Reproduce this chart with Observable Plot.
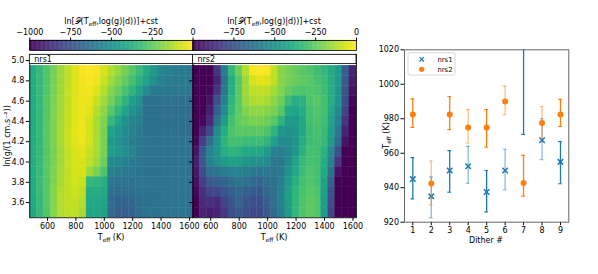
<!DOCTYPE html>
<html><head><meta charset="utf-8">
<script src="https://cdn.jsdelivr.net/npm/d3@7"></script>
<script src="https://cdn.jsdelivr.net/npm/@observablehq/plot@0.6"></script>
<style>
body{margin:0;background:#fff;}
#wrap{position:relative;width:598px;height:274px;font-family:"DejaVu Sans",sans-serif;}
#wrap > svg{position:absolute;left:0;top:0;}
</style></head><body><div id="wrap"></div>
<script>
// ---- heatmap grid ----
const teff = [500,550,600,650,700,750,800,850,900,950,1000,1050,1100,1150,1200,1250,1300,1350,1400,1450,1500,1550,1600];
// rows listed top -> bottom
const logg = [4.9,4.8,4.7,4.6,4.5,4.4,4.3,4.2,4.1,4.0,3.9,3.8,3.7,3.6,3.5];
const nrs1LnP = [
[-390,-330,-270,-210,-150,-100,-50,-15,-5,-10,-60,-110,-160,-210,-260,-320,-390,-460,-530,-570,-585,-590,-590],
[-390,-330,-270,-205,-150,-100,-50,-20,-8,-25,-80,-140,-190,-240,-300,-360,-430,-500,-560,-585,-590,-590,-590],
[-390,-330,-270,-200,-145,-95,-50,-25,-20,-50,-110,-180,-230,-290,-350,-420,-520,-590,-600,-600,-600,-600,-600],
[-390,-330,-265,-200,-140,-95,-50,-30,-35,-80,-140,-210,-280,-350,-430,-500,-630,-630,-630,-630,-630,-630,-630],
[-390,-330,-265,-195,-140,-90,-50,-30,-50,-110,-170,-260,-340,-420,-490,-540,-635,-635,-635,-635,-635,-635,-635],
[-390,-330,-260,-190,-135,-90,-45,-30,-70,-130,-190,-330,-420,-490,-540,-570,-635,-635,-635,-635,-635,-635,-635],
[-390,-330,-260,-190,-130,-85,-40,-25,-70,-130,-200,-420,-470,-520,-560,-590,-630,-630,-630,-630,-630,-630,-630],
[-390,-330,-260,-190,-130,-85,-45,-30,-70,-130,-200,-450,-490,-530,-570,-600,-620,-620,-620,-620,-620,-620,-620],
[-385,-330,-265,-200,-140,-95,-55,-45,-85,-130,-200,-430,-470,-510,-550,-600,-615,-615,-615,-615,-615,-615,-615],
[-385,-325,-260,-200,-140,-95,-60,-55,-100,-150,-220,-520,-540,-560,-590,-610,-615,-615,-615,-615,-615,-615,-615],
[-385,-325,-260,-195,-135,-90,-60,-65,-150,-200,-280,-560,-580,-590,-605,-615,-615,-615,-615,-615,-615,-615,-615],
[-390,-320,-260,-190,-130,-90,-70,-80,-330,-350,-380,-600,-620,-620,-620,-610,-610,-610,-610,-610,-610,-610,-610],
[-390,-320,-260,-180,-120,-90,-80,-100,-380,-380,-400,-620,-650,-650,-640,-620,-615,-610,-610,-610,-610,-610,-610],
[-400,-330,-260,-180,-120,-90,-90,-120,-400,-400,-420,-650,-690,-690,-670,-640,-620,-615,-610,-610,-610,-610,-610],
[-400,-330,-270,-180,-120,-100,-100,-130,-410,-410,-430,-660,-710,-710,-690,-650,-625,-615,-610,-610,-610,-610,-610]
];
const nrs2LnP = [
[-1000,-1000,-1000,-850,-580,-330,-220,-120,-10,-5,-10,-90,-180,-210,-240,-260,-280,-310,-340,-390,-450,-700,-900],
[-1000,-1000,-1000,-900,-620,-380,-260,-150,-60,-40,-50,-100,-180,-210,-230,-250,-260,-290,-320,-380,-460,-720,-920],
[-1000,-1000,-980,-850,-600,-380,-250,-150,-100,-90,-100,-140,-190,-240,-270,-280,-270,-280,-310,-380,-470,-740,-950],
[-1000,-1000,-950,-760,-560,-350,-250,-160,-120,-120,-130,-170,-220,-320,-380,-360,-280,-260,-300,-380,-480,-760,-980],
[-1000,-1000,-920,-700,-520,-330,-250,-190,-170,-170,-180,-200,-260,-400,-420,-380,-300,-270,-300,-400,-520,-800,-1000],
[-1000,-980,-880,-620,-450,-300,-240,-220,-200,-200,-220,-260,-350,-450,-460,-400,-300,-280,-310,-420,-560,-850,-1000],
[-1000,-900,-780,-520,-380,-280,-260,-260,-260,-250,-280,-350,-460,-500,-480,-400,-310,-290,-320,-440,-600,-900,-1000],
[-980,-820,-640,-480,-350,-300,-300,-320,-320,-310,-350,-440,-520,-520,-480,-380,-310,-300,-330,-460,-650,-950,-1000],
[-950,-720,-560,-480,-380,-350,-360,-400,-400,-400,-450,-560,-580,-540,-470,-360,-300,-300,-360,-520,-760,-1000,-1000],
[-920,-720,-560,-500,-460,-430,-440,-480,-500,-500,-520,-600,-600,-520,-420,-330,-290,-300,-380,-560,-850,-1000,-1000],
[-940,-760,-640,-620,-580,-560,-560,-580,-600,-600,-600,-620,-600,-500,-400,-320,-280,-300,-400,-620,-950,-1000,-1000],
[-960,-820,-720,-700,-680,-640,-620,-640,-660,-680,-640,-640,-580,-460,-370,-300,-270,-290,-420,-700,-1000,-1000,-1000],
[-980,-860,-800,-780,-740,-700,-660,-700,-720,-720,-660,-640,-560,-440,-350,-290,-260,-280,-430,-740,-1000,-1000,-1000],
[-1000,-880,-860,-880,-800,-740,-680,-740,-760,-760,-700,-640,-560,-440,-340,-280,-250,-270,-440,-770,-1000,-1000,-1000],
[-1000,-900,-920,-900,-840,-760,-720,-760,-780,-780,-720,-660,-580,-450,-340,-280,-250,-270,-450,-790,-1000,-1000,-1000]
];
const teffTicks = [600,800,1000,1200,1400,1600];
const loggTicks = [3.6,3.8,4.0,4.2,4.4,4.6,4.8,5.0];
const cbTicks1 = [-1000,-750,-500,-250,0];
const cbTicks2 = [-750,-500,-250,0];

// ---- Teff per dither ----
const dither = [1,2,3,4,5,6,7,8,9];
const nrs1Teff = [945,935,950,952.5,937.5,950,1032,967.5,955];
const nrs1Low  = [933.5,922.5,937.5,942.5,926,938.8,971,956.3,942.3];
const nrs1High = [957.4,946.2,961.5,964,950,962.3,1093,980,966.7];
const nrs2Teff = [982.5,942.5,982.5,975,975,990,942.7,977.6,982.5];
const nrs2Low  = [975,930,973.7,965.9,963.6,982.4,935.1,968.8,975.6];
const nrs2High = [991.5,955.5,992.9,985.3,985.3,998.9,958.8,987.1,991.3];
const yTicks = [920,940,960,980,1000,1020];

const W = 598, H = 274;
const FONT = "DejaVu Sans";
const wrap = document.getElementById("wrap");
const colorOpt = {type:"linear", scheme:"viridis", domain:[-1000,0], clamp:true};
const baseStyle = {background:"transparent", fontFamily:FONT, fontSize:"8px", color:"black", overflow:"visible"};

function cells(grid){
  const out=[];
  grid.forEach((row,i)=>row.forEach((v,j)=>out.push({T:teff[j], g:logg[i], v})));
  return out;
}
const dT = teff[1]-teff[0], dG = +(logg[0]-logg[1]).toFixed(3);

function heat(grid, left, right, showY){
  const c = Plot.plot({
    width:W, height:H, style:baseStyle,
    marginLeft:left, marginRight:W-right, marginTop:54, marginBottom:H-217.3,
    x:{domain:[475,1625], ticks:teffTicks, tickFormat:"d", tickSize:3.5, tickPadding:2, label:null},
    y:{domain:[3.45,5.06], ticks:loggTicks, tickFormat: showY ? d3.format(".1f") : ()=>"", tickSize:3.5, tickPadding:2, label:null},
    color:colorOpt,
    marks:[
      Plot.rect(cells(grid), {x1:d=>d.T-dT/2, x2:d=>d.T+dT/2, y1:d=>d.g-dG/2, y2:d=>d.g+dG/2, fill:"v", stroke:"v", strokeWidth:0.4}),
      Plot.frame({stroke:"black", strokeWidth:0.8})
    ]
  });
  wrap.appendChild(c);
  return c;
}
const hA = heat(nrs1LnP, 29.3, 192.5, true);
const hB = heat(nrs2LnP, 192.5, 356, false);

function cbar(left, right, ticks){
  const step = 5;
  const ramp = d3.range(-1000, 0, step);
  const c = Plot.plot({
    width:W, height:H, style:baseStyle,
    marginLeft:left, marginRight:W-right, marginTop:40, marginBottom:H-50,
    x:{domain:[-1000,0], axis:"top", ticks, tickFormat:"d", tickSize:3.5, tickPadding:2, label:null},
    y:{domain:[0,1], axis:null},
    color:colorOpt,
    marks:[
      Plot.rect(ramp, {x1:d=>d, x2:d=>d+step, y1:0, y2:1, fill:d=>d+step/2, stroke:d=>d+step/2, strokeWidth:0.3}),
      Plot.frame({stroke:"black", strokeWidth:0.8})
    ]
  });
  wrap.appendChild(c);
}
cbar(29.3, 192.5, cbTicks1);
cbar(192.5, 356, cbTicks2);

// ---- error bar chart ----
const rows1 = dither.map((d,i)=>({d, t:nrs1Teff[i], lo:nrs1Low[i], hi:nrs1High[i]}));
const rows2 = dither.map((d,i)=>({d, t:nrs2Teff[i], lo:nrs2Low[i], hi:nrs2High[i]}));
const blue = "#1f77b4", orange = "#ff7f0e";
function errMarks(rows, color){
  const odd = rows.filter(r=>r.d%2===1), even = rows.filter(r=>r.d%2===0);
  const m = [];
  for (const [set, op] of [[odd,1],[even,0.5]]) {
    m.push(Plot.ruleX(set, {x:"d", y1:"lo", y2:"hi", stroke:color, strokeWidth:1.3, strokeOpacity:op, clip:true}));
    m.push(Plot.ruleY(set, {y:"lo", x1:r=>r.d-0.1, x2:r=>r.d+0.1, stroke:color, strokeWidth:1.2, strokeOpacity:op, clip:true}));
    m.push(Plot.ruleY(set, {y:"hi", x1:r=>r.d-0.1, x2:r=>r.d+0.1, stroke:color, strokeWidth:1.2, strokeOpacity:op, clip:true}));
  }
  return m;
}
const ce = Plot.plot({
  width:W, height:H, style:baseStyle,
  marginLeft:404, marginRight:W-568.3, marginTop:49.3, marginBottom:H-221.7,
  x:{domain:[0.55,9.45], ticks:dither, tickFormat:"d", tickSize:3.5, tickPadding:2, label:null},
  y:{domain:[920,1020], ticks:yTicks, tickFormat:"d", tickSize:3.5, tickPadding:2, label:null},
  marks:[
    ...errMarks(rows1, blue),
    Plot.dot(rows1, {x:"d", y:"t", symbol:"times", r:2.6, stroke:blue, strokeWidth:1.5, clip:true}),
    ...errMarks(rows2, orange),
    Plot.dot(rows2, {x:"d", y:"t", symbol:"circle", r:3, fill:orange, stroke:"none", clip:true}),
    Plot.frame({stroke:"#666", strokeWidth:1})
  ]
});
wrap.appendChild(ce);

// ---- text overlay ----
const svg = d3.select(wrap).append("svg").attr("width",W).attr("height",H)
  .style("font-family",FONT).style("font-size","8px");
function subText(g, parts){
  // parts: array of [text, "sub"|"sup"|null]
  const t = g.append("text");
  let shift = 0;
  for (const [s, kind] of parts) {
    const ts = t.append("tspan").text(s);
    let target = kind==="sub" ? 1.8 : kind==="sup" ? -3 : 0;
    if (target !== shift) { ts.attr("dy", target - shift); shift = target; }
    if (kind) ts.attr("font-size","5.8px");
  }
  return t;
}
function label(x, y, parts, rotate){
  const g = svg.append("g").attr("transform", `translate(${x},${y})` + (rotate?" rotate(-90)":""));
  subText(g, parts).attr("text-anchor","middle");
}
const cbTitle = [["ln[𝒫(T",null],["eff",  "sub"],[",log(g)|d))]+cst",null]];
label(111, 24, cbTitle);
label(274, 24, cbTitle);
const teffLabel = [["T",null],["eff","sub"],[" (K)",null]];
label(111, 240, teffLabel);
label(274, 240, teffLabel);
label(10, 136, [["ln(g/(1 cm.s⁻²))",null]], true);
label(389, 135.5, teffLabel, true);
label(486, 243, [["Dither #",null]]);

// panel name boxes
for (const [x0,x1,name] of [[29.3,192.5,"nrs1"],[192.5,356,"nrs2"]]) {
  svg.append("rect").attr("x",x0).attr("y",54.3).attr("width",x1-x0).attr("height",9.3)
    .attr("fill","white").attr("stroke","black").attr("stroke-width",0.8);
  svg.append("text").attr("x",x0+5).attr("y",61.6).text(name);
}

// legend
const lg = svg.append("g");
lg.append("rect").attr("x",408).attr("y",52.7).attr("width",47).attr("height",22.3).attr("rx",2)
  .attr("fill","white").attr("fill-opacity",0.8).attr("stroke","#ccc").attr("stroke-width",0.8);
lg.append("path").attr("d", d3.symbol(d3.symbolTimes, 14)()).attr("transform","translate(421.7,59.3)")
  .attr("stroke",blue).attr("stroke-width",1.2).attr("fill","none");
lg.append("circle").attr("cx",421.7).attr("cy",69.3).attr("r",2.6).attr("fill",orange);
lg.append("text").attr("x",437.5).attr("y",61.8).attr("font-size","6.8px").text("nrs1");
lg.append("text").attr("x",437.5).attr("y",71.8).attr("font-size","6.8px").text("nrs2");
</script></body></html>
